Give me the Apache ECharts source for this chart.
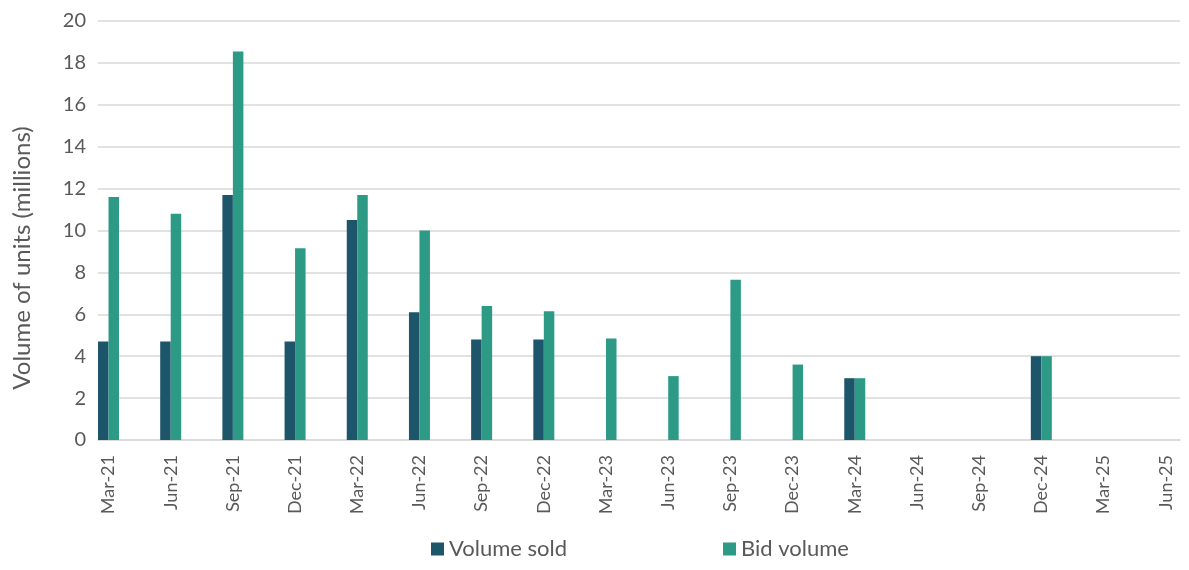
<!DOCTYPE html>
<html>
<head>
<meta charset="utf-8">
<script src="https://cdn.jsdelivr.net/npm/echarts@6/dist/echarts.min.js"></script>
<style>
  html, body { margin: 0; padding: 0; background: #fff; }
  #main { width: 1189px; height: 570px; }
</style>
</head>
<body>
<div id="main"></div>
<script>
var categories = ['Mar-21', 'Jun-21', 'Sep-21', 'Dec-21', 'Mar-22', 'Jun-22', 'Sep-22', 'Dec-22',
    'Mar-23', 'Jun-23', 'Sep-23', 'Dec-23', 'Mar-24', 'Jun-24', 'Sep-24', 'Dec-24', 'Mar-25', 'Jun-25'];
var volumeSold = [4.7, 4.7, 11.7, 4.7, 10.5, 6.1, 4.8, 4.8,
    null, null, null, null, 2.95, null, null, 4.0, null, null];
var bidVolume = [11.6, 10.8, 18.55, 9.15, 11.7, 10.0, 6.4, 6.15,
    4.85, 3.05, 7.65, 3.6, 2.95, null, null, 4.0, null, null];
var yTicks = [0, 2, 4, 6, 8, 10, 12, 14, 16, 18, 20];

// quarters sit on a numeric axis so the bars line up with the ticks like Excel's date axis
function pairs(arr) {
    var out = [];
    arr.forEach(function (v, i) { if (v != null) out.push([i, v]); });
    return out;
}

var font = 'Lato';
var grey = '#595959';

echarts.init(document.getElementById('main')).setOption({
    animation: false,
    textStyle: { fontFamily: font },
    grid: { left: 98, right: 9, top: 21, bottom: 130, containLabel: false },
    graphic: [{
        type: 'text',
        x: 22,
        y: 258,
        rotation: Math.PI / 2,
        style: {
            text: 'Volume of units (millions)',
            fill: grey,
            font: '24px Lato',
            align: 'center',
            verticalAlign: 'middle'
        }
    }],
    legend: {
        left: 426,
        bottom: 5,
        icon: 'rect',
        itemWidth: 13,
        itemHeight: 13,
        itemGap: 156,
        textStyle: { fontFamily: font, fontSize: 22, color: grey }
    },
    xAxis: {
        type: 'value',
        min: -0.169,
        max: 17.23,
        splitLine: { show: false },
        axisLine: { show: true, lineStyle: { color: '#d9d9d9', width: 1.5 } },
        axisTick: { show: false },
        axisLabel: {
            customValues: categories.map(function (c, i) { return i; }),
            formatter: function (v) { return categories[Math.round(v)] || ''; },
            rotate: 90,
            margin: 15,
            fontSize: 18,
            color: grey,
            fontFamily: font
        }
    },
    yAxis: {
        type: 'value',
        min: yTicks[0],
        max: yTicks[yTicks.length - 1],
        interval: 2,
        axisLine: { show: false },
        axisTick: { show: false },
        axisLabel: { fontSize: 20, color: grey, margin: 12, fontFamily: font },
        splitLine: { lineStyle: { color: '#d9d9d9', width: 1.5 } }
    },
    series: [
        {
            name: 'Volume sold',
            type: 'bar',
            barWidth: 10.5,
            barGap: 0,
            itemStyle: { color: '#1d566a' },
            data: pairs(volumeSold)
        },
        {
            name: 'Bid volume',
            type: 'bar',
            barWidth: 10.5,
            barGap: 0,
            itemStyle: { color: '#2d9a86' },
            data: pairs(bidVolume)
        }
    ]
});
</script>
</body>
</html>
